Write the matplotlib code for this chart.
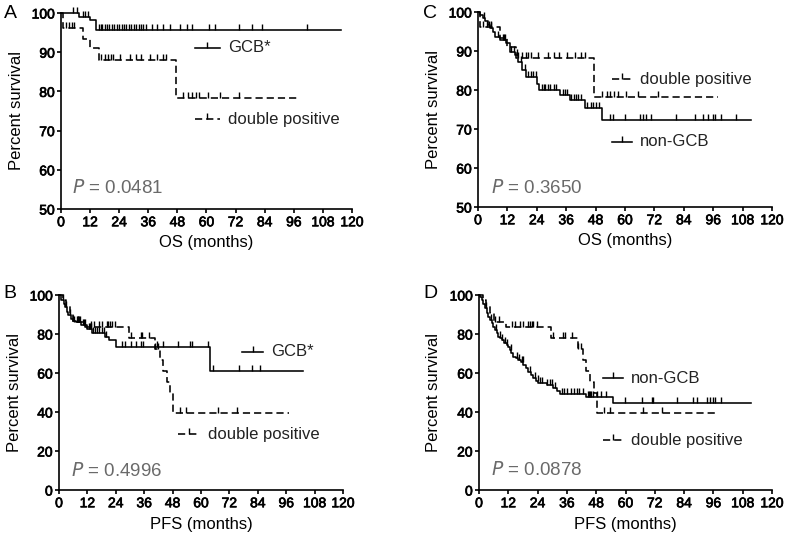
import numpy as np
import matplotlib.pyplot as plt
import matplotlib.patheffects as pe

plt.rcParams['font.family'] = ['Liberation Sans', 'DejaVu Sans']

# ---- OS, GCB* (panel A) ----
gcb_os_t = [7.5, 12, 14.5]
gcb_os_s = [99.1, 98.2, 95.7]
gcb_os_end = 115.5
gcb_os_cens = [5, 6.5, 9, 10, 11, 15.5, 16.5, 17, 18, 19, 20, 21, 22, 23, 24, 25,
               26, 27, 28, 29, 30, 31, 32, 33, 34, 35, 37.5, 39.5, 42, 45, 49, 52,
               54, 61, 63.5, 73.4, 78.6, 82.7, 101.5]

# ---- OS, double positive (panels A and C) ----
dp_os_t = [1, 9, 12, 15.5, 47.5]
dp_os_s = [96.2, 93.3, 91.0, 88.1, 78.2]
dp_os_end = 97.8
dp_os_cens = [2, 3.5, 4.5, 5.5, 16.5, 18, 19.5, 20.5, 21.5, 24.5, 28.5, 31, 33,
              36.5, 39.5, 42, 43.5, 50.5, 52.5, 54, 55.5, 57, 60.5, 65.5, 73.5]

# ---- OS, non-GCB (panel C) ----
ngcb_os_t = [1, 2, 3, 4, 5, 6, 7, 9, 11.5, 13, 15, 16.5, 18, 19.5, 24, 25,
             33.5, 37.5, 43.5, 50.5]
ngcb_os_s = [99.3, 98.4, 97.6, 96.7, 95.8, 95.0, 93.7, 92.8, 92.0, 89.8, 89.0,
             87.3, 85.1, 83.3, 81.5, 79.9, 78.8, 77.4, 75.4, 72.2]
ngcb_os_end = 111.3
ngcb_os_cens = [2.5, 5.5, 8, 10, 10.5, 11, 13.5, 14.5, 16, 17.5, 19, 20.5, 21.5,
                22.5, 23.5, 26, 27, 27.5, 28.5, 29.5, 31, 32, 34.5, 35.5, 36.5, 38,
                39, 40, 41, 42, 44.5, 46, 47, 48, 49.5, 53.7, 55.1, 59.9, 66, 67.3,
                68.7, 70.7, 81, 88.4, 91.8, 93.9, 96, 96.6, 99.3, 105.4]

# ---- PFS, GCB* (panel B) ----
gcb_pfs_t = [1, 2, 2.5, 3.5, 4, 5, 6, 7, 9.5, 12, 14, 19.5, 21, 24, 64]
gcb_pfs_s = [97.4, 95.5, 94.0, 91.5, 90.0, 87.5, 86.5, 86.0, 84.7, 82.5, 80.3,
             78.6, 77.0, 73.2, 61.2]
gcb_pfs_end = 103
gcb_pfs_cens = [1.5, 3, 4.5, 6, 7.5, 8, 8.5, 9, 10, 10.5, 11, 12.5, 13, 13.5, 14.5,
                15, 16, 17, 18, 19, 20, 26.5, 28, 30.5, 32.5, 34.5, 35.5, 41.5, 44,
                50.4, 55.3, 56, 63, 65, 76, 81.5, 85]

# ---- PFS, double positive (panels B and D) ----
dp_pfs_t = [1.5, 3, 4.5, 6, 11, 29.5, 40.5, 42.5, 43.8, 45.5, 47, 48.3]
dp_pfs_s = [97.2, 94.5, 90.6, 86.3, 83.4, 77.8, 72.2, 66.7, 61.1, 55.6, 50.0, 39.5]
dp_pfs_end = 97.3
dp_pfs_cens = [6.5, 8, 13.4, 14.7, 16.8, 18.1, 20.2, 20.9, 21.6, 22.2, 23.6, 30.4,
               34.5, 35.2, 37.9, 40.6, 41.8, 51, 53.5, 67, 75]

# ---- PFS, non-GCB (panel D) ----
ngcb_pfs_t = [0.5, 1.1, 1.8, 2.5, 3.2, 3.8, 4.5, 5.2, 5.8, 6.5, 7.2, 7.9, 8.6, 9.3,
              10.3, 11.3, 12, 12.7, 13.3, 14, 15, 16.1, 17.1, 18.1, 19.1, 20.2,
              21.2, 22.2, 23.2, 24.3, 27.7, 30.4, 31.8, 33.2, 44, 55]
ngcb_pfs_s = [99.0, 97.4, 95.5, 93.2, 91.0, 88.9, 87.2, 85.5, 83.8, 82.0, 80.3,
              78.6, 77.8, 76.9, 75.6, 74.4, 73.1, 71.8, 70.1, 68.4, 67.5, 66.7, 65.4,
              64.1, 62.4, 60.7, 59.0, 57.3, 56.0, 54.7, 53.8, 52.1, 50.7, 49.3, 47.8,
              44.6]
ngcb_pfs_end = 111.3
ngcb_pfs_cens = [3, 5, 7, 8.5, 9.5, 10.5, 11.5, 13, 15.5, 16.5, 17.5, 18, 21, 23,
                 24, 25, 26, 28, 29, 30, 31, 34, 35, 36, 37.5, 39, 40, 41, 42.5,
                 44.5, 45, 45.5, 46, 46.5, 48.5, 50, 52, 59.8, 66.6, 70.7, 71.3,
                 80.9, 87.7, 89.1, 93.2, 94.5, 95.9, 96.6, 99.3]

x_ticks = list(range(0, 121, 12))
DASH = (4.5, 2.5)
LW = 1.15


def km(ax, t, s, end, cens, dashed):
    x = np.array([0] + t + [end])
    y = np.array([100] + s + [s[-1]])
    kw = dict(color='black', lw=LW, clip_on=False)
    if dashed:
        kw['dashes'] = DASH
    ax.step(x, y, where='post', **kw)
    c = np.array(cens)
    idx = np.searchsorted(x, c, side='right') - 1
    ax.plot(c, y[idx], ls='none', marker=2, ms=4.5, mew=1.0, color='black',
            clip_on=False)


def legend_item(ax, x0, x1, y, text, dashed):
    kw = dict(color='black', lw=LW, transform=ax.transAxes, clip_on=False)
    if dashed:
        kw['dashes'] = DASH
    xm = (x0 + x1) / 2
    ax.plot([x0, x1], [y, y], **kw)
    ax.plot([xm], [y], ls='none', marker=2, ms=4.5, mew=1.0, color='black',
            transform=ax.transAxes, clip_on=False)
    ax.text(x1 + 0.028, y, text, transform=ax.transAxes, fontsize=12,
            va='center', ha='left', color='#222222')


def style(ax, ylim, yticks, xlabel, w_px, h_px):
    ax.set_xlim(0, 120)
    ax.set_ylim(*ylim)
    ax.set_xticks(x_ticks)
    ax.set_yticks(yticks)
    for side in ['top', 'right']:
        ax.spines[side].set_visible(False)
    for side in ['left', 'bottom']:
        ax.spines[side].set_linewidth(1.2)
    ax.tick_params(direction='out', length=3, width=1.2, labelsize=10, pad=1.5,
                   colors='black')
    for lab in ax.get_xticklabels() + ax.get_yticklabels():
        lab.set_path_effects([pe.withStroke(linewidth=0.5, foreground='black')])
    ax.set_xlabel(xlabel, fontsize=12)
    ax.set_ylabel('Percent survival', fontsize=12)
    ax.xaxis.set_label_coords(0.5, -34 / h_px)
    ax.xaxis.label.set_va('center')
    ax.yaxis.set_label_coords(-45 / w_px, 0.5)
    ax.yaxis.label.set_va('center')


def p_text(ax, x, y, val):
    ax.text(x, y, r'$\it{P}$ = ' + val, transform=ax.transAxes, fontsize=13.5,
            color='#6a6a6a', va='center', ha='left')


W, H = 787, 539
fig = plt.figure(figsize=(7.87, 5.39), dpi=100)


def add_axes(l, r, t, b):
    return fig.add_axes([l / W, 1 - b / H, (r - l) / W, (b - t) / H]), r - l, b - t


# panel A
axA, wA, hA = add_axes(61, 352, 13, 209)
km(axA, gcb_os_t, gcb_os_s, gcb_os_end, gcb_os_cens, False)
km(axA, dp_os_t, dp_os_s, dp_os_end, dp_os_cens, True)
style(axA, (50, 100), range(50, 101, 10), 'OS (months)', wA, hA)
legend_item(axA, 0.46, 0.546, 0.823, 'GCB*', False)
legend_item(axA, 0.46, 0.546, 0.459, 'double positive', True)
p_text(axA, 0.038, 0.107, '0.0481')

# panel C
axC, wC, hC = add_axes(478, 772, 12, 207)
km(axC, ngcb_os_t, ngcb_os_s, ngcb_os_end, ngcb_os_cens, False)
km(axC, dp_os_t, dp_os_s, dp_os_end, dp_os_cens, True)
style(axC, (50, 100), range(50, 101, 10), 'OS (months)', wC, hC)
legend_item(axC, 0.455, 0.523, 0.656, 'double positive', True)
legend_item(axC, 0.455, 0.523, 0.335, 'non-GCB', False)
p_text(axC, 0.044, 0.097, '0.3650')

# panel B
axB, wB, hB = add_axes(59, 343, 295, 490)
km(axB, gcb_pfs_t, gcb_pfs_s, gcb_pfs_end, gcb_pfs_cens, False)
km(axB, dp_pfs_t, dp_pfs_s, dp_pfs_end, dp_pfs_cens, True)
style(axB, (0, 100), range(0, 101, 20), 'PFS (months)', wB, hB)
legend_item(axB, 0.643, 0.72, 0.709, 'GCB*', False)
legend_item(axB, 0.42, 0.496, 0.286, 'double positive', True)
p_text(axB, 0.042, 0.097, '0.4996')

# panel D
axD, wD, hD = add_axes(479, 772, 295, 490)
km(axD, ngcb_pfs_t, ngcb_pfs_s, ngcb_pfs_end, ngcb_pfs_cens, False)
km(axD, dp_pfs_t, dp_pfs_s, dp_pfs_end, dp_pfs_cens, True)
style(axD, (0, 100), range(0, 101, 20), 'PFS (months)', wD, hD)
legend_item(axD, 0.424, 0.492, 0.573, 'non-GCB', False)
legend_item(axD, 0.424, 0.492, 0.256, 'double positive', True)
p_text(axD, 0.041, 0.103, '0.0878')

# panel letters
for letter, x, y in [('A', 10, 14), ('C', 430, 13), ('B', 10, 294), ('D', 430, 294)]:
    fig.text(x / W, 1 - y / H, letter, fontsize=14, ha='center', va='center')

fig.savefig('out.png', dpi=100)
